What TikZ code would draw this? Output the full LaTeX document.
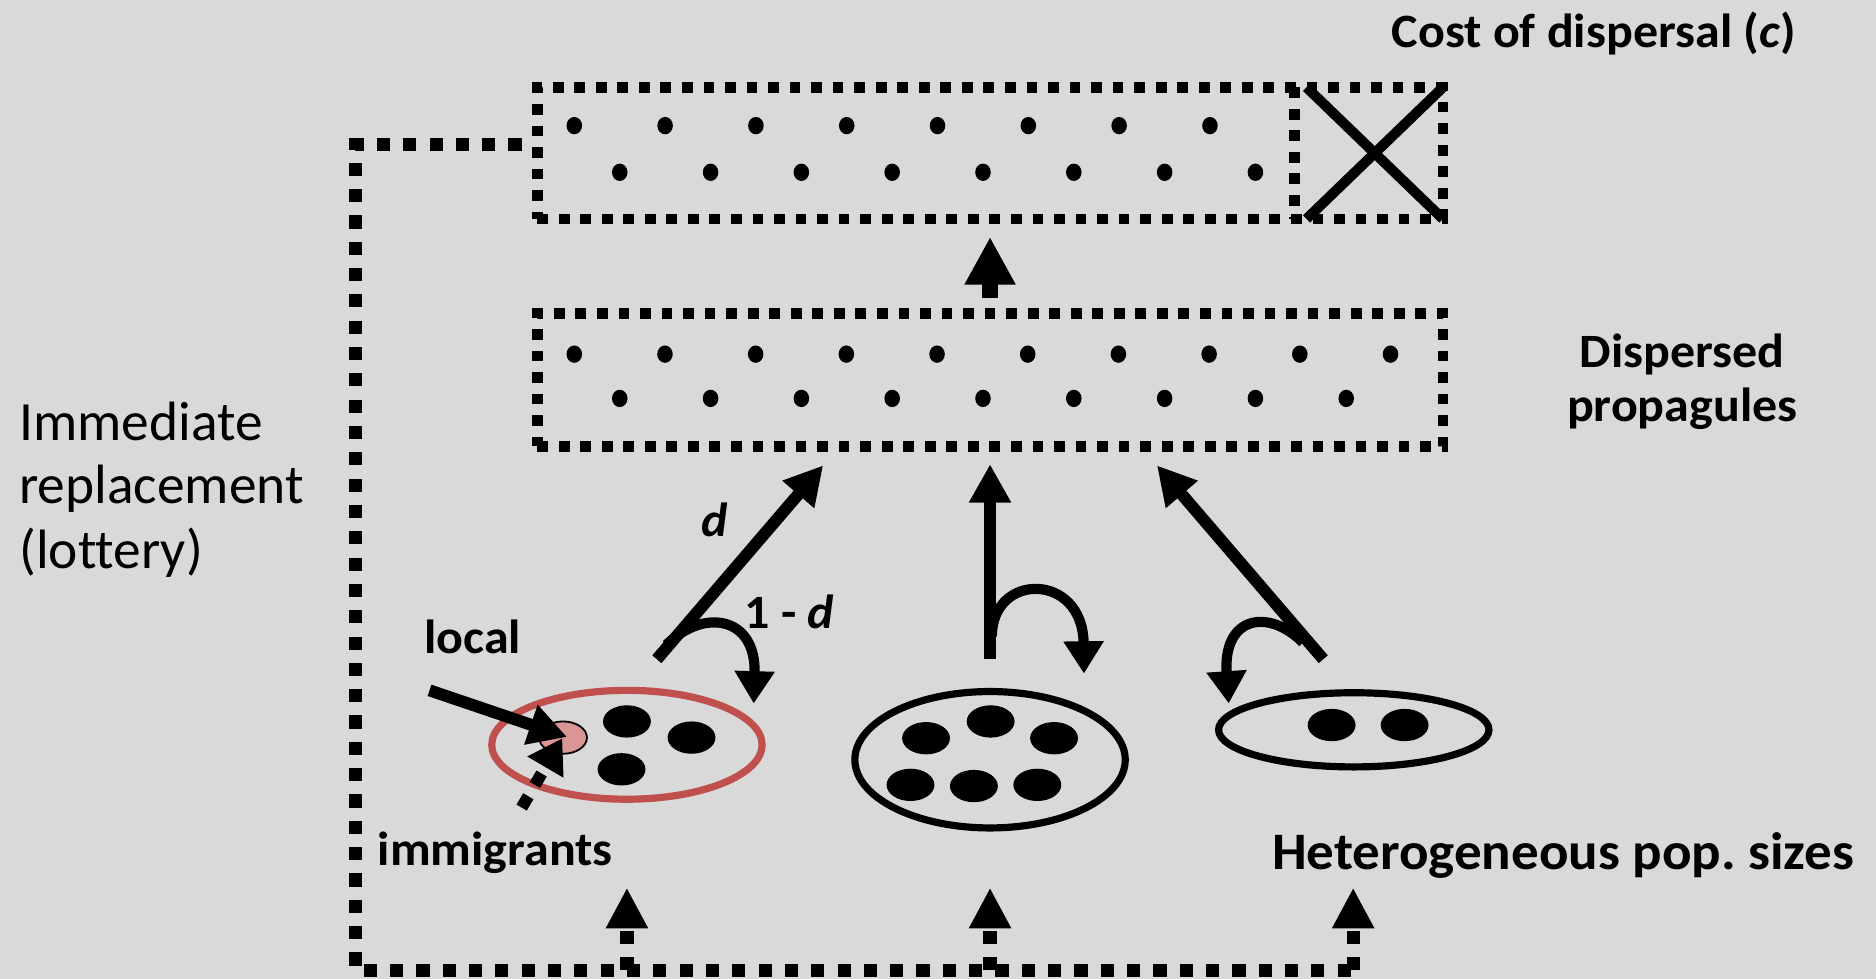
\documentclass[tikz,border=0pt]{standalone}
\usepackage{fontspec}
\setmainfont{Carlito}[Ligatures=NoCommon]
\newfontfamily\lblfont{Carlito}[Ligatures=NoCommon,FakeStretch=1.045]
\usetikzlibrary{arrows.meta,shapes.geometric}
\definecolor{bg}{HTML}{D9D9D9}
\definecolor{popred}{HTML}{C0504D}
\definecolor{localpink}{HTML}{D99694}
\begin{document}
\begin{tikzpicture}[x=1pt,y=-1pt,
  boxdot/.style={line width=9pt, dash pattern=on 9pt off 9pt},
  loopdot/.style={line width=11pt, dash pattern=on 11pt off 11pt},
  bigarrow/.style={line width=10pt, -{Triangle[length=32pt,width=33pt]}},
  curvearrow/.style={line width=8.5pt, -{Triangle[length=27pt,width=32pt]}},
  loophead/.style={-{Triangle[length=34pt,width=33pt]}},
  seed/.style={ellipse, fill=black, inner sep=0pt, minimum width=13pt, minimum height=14.5pt},
  bigseed/.style={ellipse, fill=black, inner sep=0pt, minimum width=40pt, minimum height=27pt},
  pop/.style={ellipse, draw, line width=6pt, inner sep=0pt, minimum width=226pt},
  boxnode/.style={rectangle, draw, boxdot, inner sep=0pt, minimum width=757pt},
  lbl/.style={font=\lblfont\fontsize{40}{46}\selectfont\bfseries, inner sep=0pt},
  biglbl/.style={font=\lblfont\fontsize{44}{50}\selectfont\bfseries, inner sep=0pt},
  reg/.style={font=\fontsize{46.3}{54}\selectfont, inner sep=0pt},
]
\fill[bg] (0,0) rectangle (1568,818);
\useasboundingbox (0,0) rectangle (1568,818);

% boxes
\node[boxnode, minimum height=110pt] (topbox) at (827.5,128) {};
\node[boxnode, minimum height=111pt] (midbox) at (827.5,317.5) {};
\coordinate (sepT) at (1082,73);
\coordinate (sepB) at (1082,183);
\draw[boxdot] (sepT) -- (sepB);
\coordinate (x1) at (1092,73);
\coordinate (x2) at (1206,183);
\coordinate (x3) at (1092,183);
\coordinate (x4) at (1206,73);
\draw[line width=8.5pt] (x1) -- (x2);
\draw[line width=8.5pt] (x3) -- (x4);

% seeds in boxes
\foreach \i in {0,...,7} {
  \node[seed] (ta\i) at (480+75.9*\i,105) {};
  \node[seed] (tb\i) at (518+75.9*\i,144) {};
}
\foreach \i in {0,...,9} {
  \node[seed] (ma\i) at (480+75.8*\i,296) {};
}
\foreach \i in {0,...,8} {
  \node[seed] (mb\i) at (518+75.9*\i,333) {};
}

% arrow between boxes
\coordinate (bx0) at (827.5,249);
\coordinate (bx1) at (827.5,198);
\draw[line width=13pt, -{Triangle[length=40pt,width=40pt]}] (bx0) -- (bx1);

% populations
\node[pop, draw=popred, minimum height=91pt] (pop1) at (524,622.5) {};
\node[pop, minimum height=114pt] (pop2) at (827.5,635) {};
\node[pop, minimum height=62pt] (pop3) at (1131.5,610) {};

\node[bigseed] (p1a) at (524,603) {};
\node[bigseed] (p1b) at (578,616.5) {};
\node[bigseed] (p1c) at (519.5,643) {};
\node[ellipse, draw, line width=1.5pt, fill=localpink, inner sep=0pt, minimum width=40pt, minimum height=27pt] (newcomer) at (470.6,616.5) {};

\node[bigseed] (p2a) at (774,617) {};
\node[bigseed] (p2b) at (828,603) {};
\node[bigseed] (p2c) at (881,617) {};
\node[bigseed] (p2d) at (761,656) {};
\node[bigseed] (p2e) at (814,657) {};
\node[bigseed] (p2f) at (867,656) {};

\node[bigseed] (p3a) at (1113,606) {};
\node[bigseed] (p3b) at (1174,606) {};

% dispersal arrows
\coordinate (d1s) at (549,551);
\coordinate (d1t) at (688,389);
\draw[bigarrow] (d1s) -- (d1t);
\coordinate (c1s) at (557,539);
\coordinate (c1t) at (630,588);
\draw[curvearrow] (c1s) .. controls (588,508) and (632,515) .. (c1t);

\coordinate (d2s) at (827.5,551);
\coordinate (d2t) at (827.5,388);
\draw[bigarrow] (d2s) -- (d2t);
\coordinate (c2s) at (829,532);
\coordinate (c2t) at (906,563);
\draw[curvearrow] (c2s) .. controls (829,478) and (905,478) .. (c2t);

\coordinate (d3s) at (1106,551);
\coordinate (d3t) at (967,389);
\draw[bigarrow] (d3s) -- (d3t);
\coordinate (c3s) at (1089,537);
\coordinate (c3t) at (1027,588);
\draw[curvearrow] (c3s) .. controls (1060,508) and (1022,515) .. (c3t);

% local and immigrant arrows
\coordinate (ls) at (359,577);
\coordinate (lt) at (474,616);
\draw[bigarrow] (ls) -- (lt);
\coordinate (is) at (436,675);
\coordinate (it) at (470,617);
\draw[line width=10pt, dash pattern=on 11pt off 11pt, -{Triangle[length=28pt,width=33pt]}] (is) -- (it);

% lottery loop
\coordinate (l0) at (436,121);
\coordinate (l1) at (297,121);
\coordinate (l2) at (297,811);
\coordinate (l3) at (1137,811);
\draw[loopdot] (l0) -- (l1) -- (l2) -- (l3);
\foreach \x/\n in {524/1,827.5/2,1131/3} {
  \coordinate (lb\n) at (\x,811);
  \coordinate (la\n) at (\x,742);
  \draw[loopdot, loophead] (lb\n) -- (la\n);
}

% labels
\node[lbl, anchor=base west] (cost) at (1163,40) {Cost of dispersal (\textit{c})};
\node[lbl, anchor=base] (disp1) at (1406,307) {Dispersed};
\node[lbl, anchor=base] (disp2) at (1406,352) {propagules};
\node[reg, anchor=base west] (imm1) at (16,368) {Immediate};
\node[reg, anchor=base west] (imm2) at (16,421) {replacement};
\node[reg, anchor=base west] (imm3) at (16,475) {(lottery)};
\node[lbl, anchor=base] (loc) at (395,546) {local};
\node[lbl, anchor=base] (immig) at (414,723) {immigrants};
\node[biglbl, anchor=base west] (het) at (1063,727) {Heterogeneous pop.\ sizes};
\node[lbl, anchor=base] (dlab) at (597,448) {\textit{d}};
\node[lbl, anchor=base west] (omd) at (622,525) {1 - \textit{d}};
\end{tikzpicture}
\end{document}
